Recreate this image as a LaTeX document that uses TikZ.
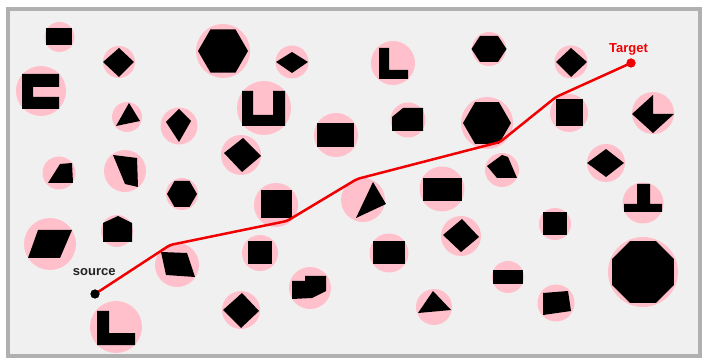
\documentclass[tikz,border=0pt]{standalone}
\usepackage{fontspec}
\newfontfamily\labfont{Liberation Sans}
\definecolor{panelbg}{HTML}{F0F0F0}
\definecolor{framec}{HTML}{B0B0B0}
\definecolor{pinkc}{HTML}{FFC0CB}
\definecolor{pathred}{HTML}{F00000}
\definecolor{srcc}{HTML}{222222}
\tikzset{
  halo/.style={fill=pinkc},
  obst/.style={fill=black},
  lbl/.style={anchor=base, inner sep=0pt, font=\labfont\bfseries\fontsize{13}{15}\selectfont},
  dotnode/.style={circle, inner sep=0pt, minimum size=9pt},
  route/.style={draw=pathred, line width=2.5pt, rounded corners=3pt, line join=round}
}
\begin{document}
\begin{tikzpicture}[x=1pt,y=-1pt]
\useasboundingbox (0,0) rectangle (710,358);
\fill[white] (0,0) rectangle (710,358);
\filldraw[fill=panelbg, draw=framec, line width=4pt] (8,9) rectangle (700,356);

% ---- pink halos ----
\fill[halo] (59.5,37) circle (15);
\fill[halo] (119,62) circle (16);
\fill[halo] (223,51) circle (27);
\fill[halo] (292,62) circle (16.5);
\fill[halo] (393,63) circle (22);
\fill[halo] (489,49) circle (17);
\fill[halo] (571,62) circle (16.5);
\fill[halo] (41,91) circle (25);
\fill[halo] (127,117) circle (15);
\fill[halo] (179,126) circle (18.5);
\fill[halo] (264,108) circle (27);
\fill[halo] (336,135) circle (22);
\fill[halo] (408,120) circle (17.5);
\fill[halo] (487,123) circle (26);
\fill[halo] (569,113) circle (19);
\fill[halo] (653,113) circle (21);
\fill[halo] (59,173) circle (16.5);
\fill[halo] (125,171) circle (21);
\fill[halo] (182,194) circle (16);
\fill[halo] (241,155) circle (20);
\fill[halo] (276,205) circle (22);
\fill[halo] (363,200) circle (22);
\fill[halo] (442,189) circle (22.5);
\fill[halo] (502,170) circle (17);
\fill[halo] (606,163) circle (19);
\fill[halo] (643,203) circle (20.5);
\fill[halo] (50,244) circle (26);
\fill[halo] (117,231) circle (16);
\fill[halo] (177,265) circle (22);
\fill[halo] (260,253) circle (18);
\fill[halo] (389,253) circle (19.5);
\fill[halo] (461,236) circle (20);
\fill[halo] (555,224) circle (16);
\fill[halo] (643,272) circle (35);
\fill[halo] (116,327) circle (26);
\fill[halo] (241,310) circle (19);
\fill[halo] (310,288) circle (21);
\fill[halo] (434,307) circle (18);
\fill[halo] (508,277) circle (16);
\fill[halo] (556,303) circle (18.5);

% ---- black obstacles ----
\fill[obst] (46,28) rectangle (72,45);
\fill[obst] (103,62) -- (119,48) -- (134,62) -- (119,77) -- cycle;
\fill[obst] (223,51) +(0:25) -- +(60:25) -- +(120:25) -- +(180:25) -- +(240:25) -- +(300:25) -- cycle;
\fill[obst] (276,62) -- (292,52) -- (308,62) -- (292,73) -- cycle;
\fill[obst] (379,48) -- (389,48) -- (389,70) -- (408,70) -- (408,79) -- (379,79) -- cycle;
\fill[obst] (471.5,49) -- (480,36) -- (498,36) -- (506.5,49) -- (498,62) -- (480,62) -- cycle;
\fill[obst] (556,62) -- (571,48) -- (587,62) -- (571,77) -- cycle;
\fill[obst] (22,74) -- (59,74) -- (59,87) -- (33,87) -- (33,97) -- (59,97) -- (59,109) -- (22,109) -- cycle;
\fill[obst] (129,103) -- (140,121) -- (116,126) -- cycle;
\fill[obst] (179,109) -- (191,121) -- (179,142) -- (166,122) -- cycle;
\fill[obst] (242,91) -- (253,91) -- (253,115) -- (273,115) -- (273,91) -- (285,91) -- (285,126) -- (242,126) -- cycle;
\fill[obst] (317,123) rectangle (354,147);
\fill[obst] (403,108) -- (423,108) -- (423,131) -- (392,131) -- (392,117) -- cycle;
\fill[obst] (487,123) +(0:24) -- +(60:24) -- +(120:24) -- +(180:24) -- +(240:24) -- +(300:24) -- cycle;
\fill[obst] (556,99) rectangle (583,126);
\fill[obst] (632,114) -- (653,95) -- (653,114) -- (674,114) -- (653,133) -- cycle;
\fill[obst] (60,164) -- (72,163) -- (73,183) -- (48,183) -- cycle;
\fill[obst] (113,155) -- (137,158) -- (138,187) -- (125,184) -- cycle;
\fill[obst] (167,194) -- (174.5,181) -- (189.5,181) -- (197,194) -- (189.5,207) -- (174.5,207) -- cycle;
\fill[obst] (224,153) -- (243,138) -- (261,156) -- (242,172) -- cycle;
\fill[obst] (261,190) rectangle (292,218);
\fill[obst] (373,182) -- (386,204) -- (356,218) -- cycle;
\fill[obst] (423,178) rectangle (462,201);
\fill[obst] (487,166) -- (502,155) -- (508,157) -- (517,178) -- (497,178) -- cycle;
\fill[obst] (587,163) -- (606,149) -- (624,163) -- (606,177) -- cycle;
\fill[obst] (637,184) -- (650,184) -- (650,204) -- (662,204) -- (662,212) -- (624,212) -- (624,204) -- (637,204) -- cycle;
\fill[obst] (38,230) -- (72,230) -- (60,258) -- (28,258) -- cycle;
\fill[obst] (118,216) -- (132,223) -- (132,242) -- (103,242) -- (103,223) -- cycle;
\fill[obst] (161,252) -- (187,253) -- (195,277) -- (166,275) -- cycle;
\fill[obst] (248,241) rectangle (272,264);
\fill[obst] (373,241) rectangle (405,264);
\fill[obst] (443,235) -- (462,219) -- (479,237) -- (461,252) -- cycle;
\fill[obst] (543,212) rectangle (567,235);
\fill[obst] (643,272) +(22.5:33.5) -- +(67.5:33.5) -- +(112.5:33.5) -- +(157.5:33.5) -- +(202.5:33.5) -- +(247.5:33.5) -- +(292.5:33.5) -- +(337.5:33.5) -- cycle;
\fill[obst] (97,311) -- (109,311) -- (109,333) -- (135,333) -- (135,345) -- (97,345) -- cycle;
\fill[obst] (223,310) -- (242,293) -- (259,311) -- (241,328) -- cycle;
\fill[obst] (305,276) -- (326,276) -- (326,291) -- (312,298) -- (292,299) -- (292,281) -- (305,281) -- cycle;
\fill[obst] (433,291) -- (451,310) -- (418,313) -- cycle;
\fill[obst] (493,270) rectangle (523,284);
\fill[obst] (543,293) -- (568,291) -- (571,311) -- (543,315) -- cycle;

% ---- route ----
\node[dotnode, fill=black] (src) at (95,294) {};
\node[dotnode, fill=pathred] (tgt) at (631,63) {};
\coordinate (w1) at (170,245);
\coordinate (w2) at (287,221);
\coordinate (w3) at (357,179);
\coordinate (w4) at (500,142);
\coordinate (w5) at (556,97);
\path[route] (src.center) -- (w1) -- (w2) -- (w3) -- (w4) -- (w5) -- (tgt.center);
\node[dotnode, fill=black] at (src) {};
\node[dotnode, fill=pathred] at (tgt) {};

\node[lbl, text=srcc] (srclab) at (94.3,275.7) {source};
\node[lbl, text=pathred] (tgtlab) at (628.5,52.7) {Target};
\end{tikzpicture}
\end{document}
